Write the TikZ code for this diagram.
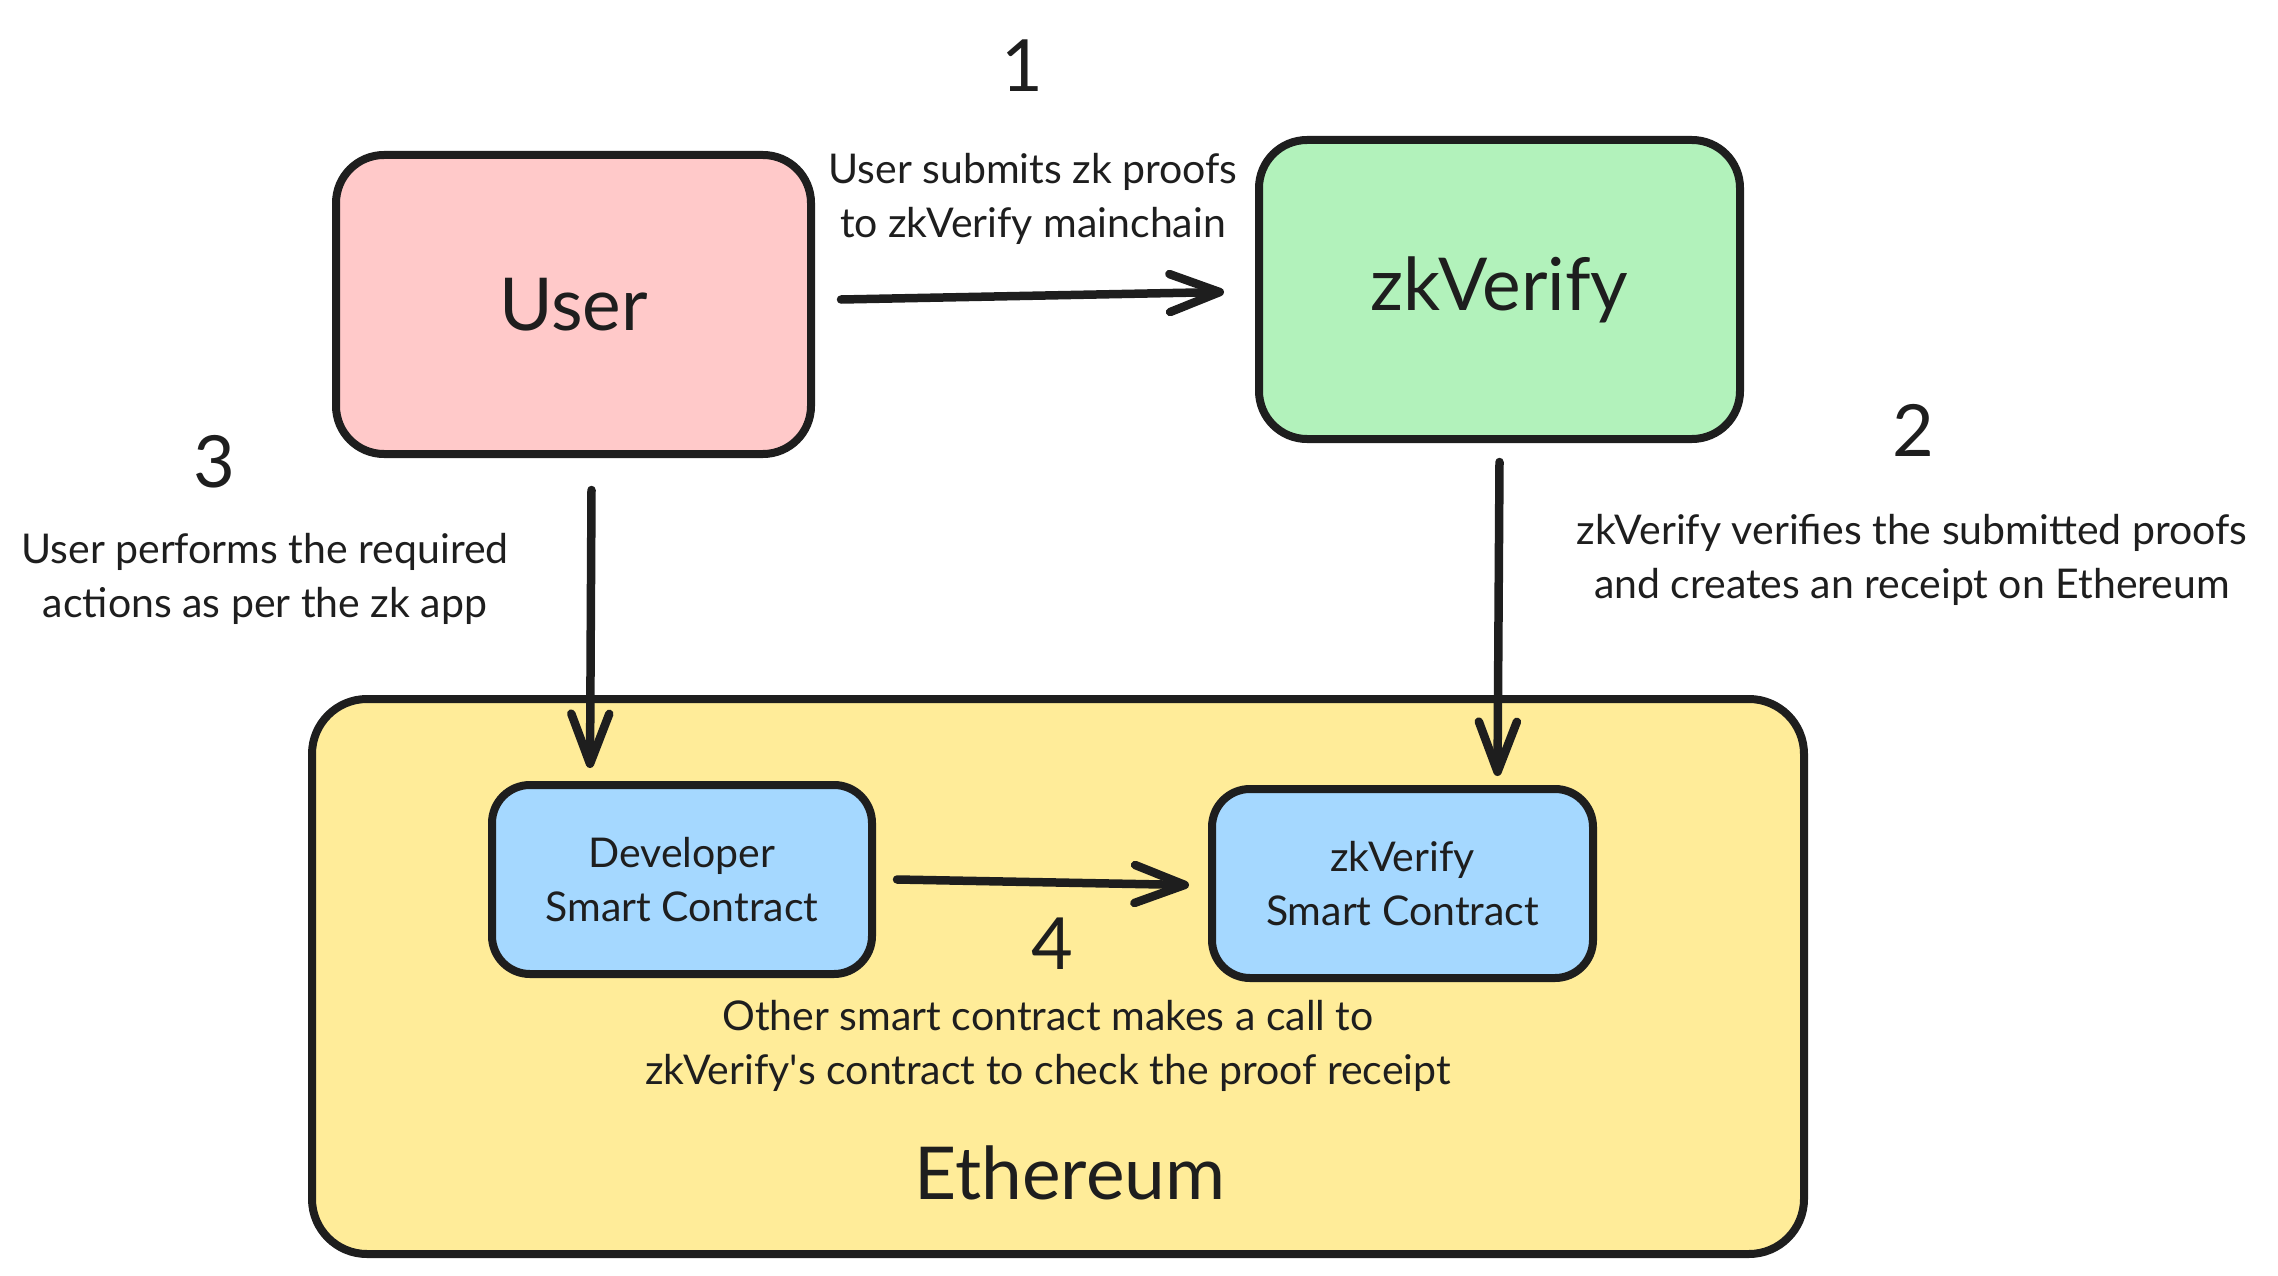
\documentclass[tikz,border=0pt]{standalone}
\usepackage{fontspec}
\setmainfont{Lato}
\usetikzlibrary{arrows.meta,calc}
\definecolor{ink}{HTML}{1E1E1E}
\definecolor{pinkfill}{HTML}{FFC9C9}
\definecolor{greenfill}{HTML}{B2F2BB}
\definecolor{yellowfill}{HTML}{FFEC99}
\definecolor{bluefill}{HTML}{A5D8FF}
\begin{document}
\begin{tikzpicture}[x=1pt,y=-1pt,
  bigbox/.style={draw=ink, line width=8pt, rounded corners=48pt, inner sep=0pt, text=ink,
    minimum height=299pt, font=\fontsize{73}{88}\selectfont},
  smallbox/.style={draw=ink, line width=8pt, rounded corners=38pt, inner sep=0pt, text=ink,
    align=center, fill=bluefill, minimum width=380pt, minimum height=189pt,
    font=\fontsize{41}{54}\selectfont},
  ethbox/.style={draw=ink, line width=8pt, rounded corners=55pt, fill=yellowfill,
    minimum width=1492pt, minimum height=555pt, inner sep=0pt},
  lbl/.style={text=ink, align=center, inner sep=0pt, font=\fontsize{41}{54}\selectfont},
  num/.style={text=ink, inner sep=0pt, font=\fontsize{72}{86}\selectfont},
  big/.style={text=ink, inner sep=0pt, font=\fontsize{73}{88}\selectfont},
  arr/.style={draw=ink, line width=8.5pt, line cap=round,
    -{Straight Barb[length=50pt,width=38pt,round]}}
]
\path[use as bounding box] (0,0) rectangle (2278,1276);

% Ethereum container
\node[ethbox] (eth) at (1058,976.5) {};
\node[big] (ethlabel) at (1070,1173) {Ethereum};

% main boxes
\node[bigbox, fill=pinkfill, minimum width=475pt] (user) at (573.5,304.5) {User};
\node[bigbox, fill=greenfill, minimum width=481pt] (zkv) at (1499.5,289.5) {zkVerify};

% contracts
\node[smallbox] (dev) at (682,879.5) {Developer\\Smart Contract};
\node[smallbox, minimum width=381pt] (zkvsc) at (1402.5,883.5) {zkVerify\\Smart Contract};

% arrows
\draw[arr] ($(user.east)+(26,-5)$) -- ($(zkv.west)+(-31,2.5)$);
\draw[arr] ($(zkv.south)+(0,19)$) -- ($(zkvsc.north -| zkv.south)+(-2,-9)$);
\draw[arr] ($(user.south)+(18,32)$) -- ($(dev.north -| user.south)+(16.5,-13)$);
\draw[arr] ($(dev.east)+(21,0)$) -- ($(zkvsc.west)+(-19,1.5)$);

% step labels
\node[num] (n1) at (1022,66) {1};
\node[lbl] (t1) at (1033,199) {User submits zk proofs\\to zkVerify mainchain};
\node[num] (n3) at (214,462) {3};
\node[lbl] (t3) at (265,578.5) {User performs the required\\actions as per the zk app};
\node[num] (n2) at (1913,430) {2};
\node[lbl] (t2) at (1912,559.5) {zkVerify verifies the submitted proofs\\and creates an receipt on Ethereum};
\node[num] (n4) at (1052,944) {4};
\node[lbl] (t4) at (1048,1045.5) {Other smart contract makes a call to\\zkVerify\textquotesingle s contract to check the proof receipt};
\end{tikzpicture}
\end{document}
